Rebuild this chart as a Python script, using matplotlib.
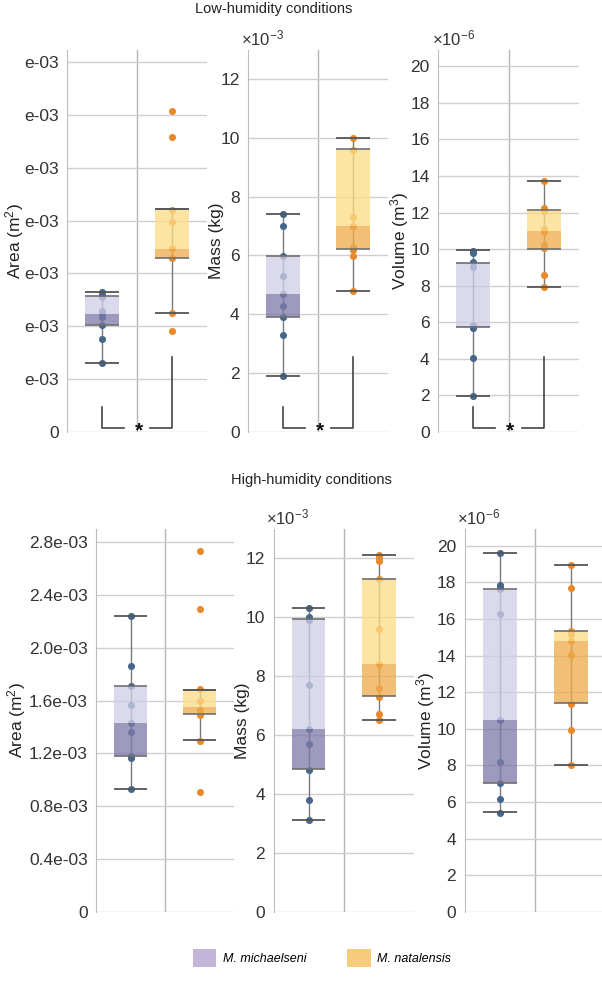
import numpy as np
import matplotlib
matplotlib.use("Agg")
import matplotlib.pyplot as plt
from matplotlib.transforms import blended_transform_factory
from matplotlib.patches import Patch

plt.rcParams['font.family'] = ['Liberation Sans', 'DejaVu Sans']
plt.rcParams['mathtext.fontset'] = 'custom'
plt.rcParams['mathtext.rm'] = 'Liberation Sans'
plt.rcParams['mathtext.it'] = 'Liberation Sans:italic'

# ---------------- data ----------------
species = ["M. michaelseni", "M. natalensis"]
conditions = ["Low-humidity conditions", "High-humidity conditions"]

# Low humidity -- individual points
area_low_mm = [1.058e-3, 1.038e-3, 1.018e-3, 0.916e-3, 0.891e-3, 0.866e-3, 0.810e-3, 0.701e-3, 0.519e-3]
area_low_mn = [2.430e-3, 2.235e-3, 1.684e-3, 1.587e-3, 1.390e-3, 1.316e-3, 0.899e-3, 0.765e-3]
mass_low_mm = [7.40e-3, 6.99e-3, 5.98e-3, 5.29e-3, 4.67e-3, 4.29e-3, 3.89e-3, 3.30e-3, 1.89e-3]
mass_low_mn = [9.99e-3, 9.60e-3, 7.29e-3, 6.99e-3, 6.29e-3, 6.18e-3, 5.98e-3, 4.79e-3]
vol_low_mm = [9.92e-6, 9.81e-6, 9.28e-6, 9.04e-6, 5.84e-6, 5.75e-6, 5.66e-6, 4.02e-6, 1.95e-6]
vol_low_mn = [13.70e-6, 12.24e-6, 12.11e-6, 11.09e-6, 10.96e-6, 10.23e-6, 10.05e-6, 8.58e-6, 7.95e-6]

# High humidity -- individual points
area_high_mm = [2.244e-3, 1.865e-3, 1.711e-3, 1.567e-3, 1.428e-3, 1.362e-3, 1.183e-3, 1.162e-3, 0.930e-3]
area_high_mn = [2.735e-3, 2.293e-3, 1.684e-3, 1.596e-3, 1.528e-3, 1.490e-3, 1.295e-3, 0.909e-3]
mass_high_mm = [10.30e-3, 10.02e-3, 9.91e-3, 7.70e-3, 6.20e-3, 5.69e-3, 4.80e-3, 3.79e-3, 3.10e-3]
mass_high_mn = [12.11e-3, 12.00e-3, 11.89e-3, 11.30e-3, 9.60e-3, 8.40e-3, 7.60e-3, 7.30e-3, 6.70e-3, 6.51e-3]
vol_high_mm = [19.60e-6, 17.86e-6, 17.77e-6, 17.63e-6, 16.27e-6, 10.50e-6, 8.18e-6, 7.03e-6, 6.17e-6, 5.42e-6]
vol_high_mn = [18.96e-6, 17.68e-6, 15.34e-6, 15.20e-6, 14.78e-6, 14.05e-6, 11.36e-6, 9.95e-6, 8.02e-6]

# Box statistics: (whisker low, Q1, median, Q3, whisker high)
box_area_low_mm = [0.522e-3, 0.812e-3, 0.891e-3, 1.025e-3, 1.056e-3]
box_area_low_mn = [0.901e-3, 1.319e-3, 1.387e-3, 1.689e-3, 1.689e-3]
box_mass_low_mm = [1.89e-3, 3.91e-3, 4.68e-3, 5.98e-3, 7.41e-3]
box_mass_low_mn = [4.80e-3, 6.21e-3, 6.99e-3, 9.61e-3, 10.00e-3]
box_vol_low_mm = [1.95e-6, 5.72e-6, 5.81e-6, 9.22e-6, 9.95e-6]
box_vol_low_mn = [7.95e-6, 10.03e-6, 11.00e-6, 12.15e-6, 13.70e-6]

box_area_high_mm = [0.930e-3, 1.183e-3, 1.428e-3, 1.711e-3, 2.244e-3]
box_area_high_mn = [1.301e-3, 1.496e-3, 1.550e-3, 1.680e-3, 1.680e-3]
box_mass_high_mm = [3.10e-3, 4.83e-3, 6.20e-3, 9.93e-3, 10.31e-3]
box_mass_high_mn = [6.51e-3, 7.31e-3, 8.41e-3, 11.30e-3, 12.10e-3]
box_vol_high_mm = [5.44e-6, 7.05e-6, 10.50e-6, 17.66e-6, 19.62e-6]
box_vol_high_mn = [8.04e-6, 11.42e-6, 14.78e-6, 15.36e-6, 18.96e-6]

# Axis ticks
area_ticks = [0, 0.4e-3, 0.8e-3, 1.2e-3, 1.6e-3, 2.0e-3, 2.4e-3, 2.8e-3]
area_labels_low = ["0", "e-03", "e-03", "e-03", "e-03", "e-03", "e-03", "e-03"]
area_labels_high = ["0", "0.4e-03", "0.8e-03", "1.2e-03", "1.6e-03", "2.0e-03", "2.4e-03", "2.8e-03"]
mass_ticks = [0, 2e-3, 4e-3, 6e-3, 8e-3, 10e-3, 12e-3]
mass_labels = ["0", "2", "4", "6", "8", "10", "12"]
vol_ticks = [0, 2e-6, 4e-6, 6e-6, 8e-6, 10e-6, 12e-6, 14e-6, 16e-6, 18e-6, 20e-6]
vol_labels = ["0", "2", "4", "6", "8", "10", "12", "14", "16", "18", "20"]

# ---------------- style ----------------
W, H = 602, 990
point_colors = ["#46668c", "#e88a2c"]
light_colors = ["#d0cee7", "#fcdc87"]
dark_colors = ["#7e7aa8", "#eeab4c"]
legend_colors = ["#c4b5db", "#f6cc7c"]
BOX_ALPHA = 0.76
BOX_W = 0.48

fig = plt.figure(figsize=(W / 100, H / 100), dpi=100)


def add_ax(left, top, right, bottom):
    return fig.add_axes([left / W, 1 - bottom / H, (right - left) / W, (bottom - top) / H])


def draw_panel(ax, pts, boxes, ticks, labels, ylim, ylabel, label_x, offset=None, offset_xy=None,
               sig=False):
    ax.set_xlim(-0.5, 1.5)
    ax.set_ylim(*ylim)
    ax.set_yticks(ticks)
    ax.set_yticklabels(labels)
    ax.set_xticks([])
    ax.tick_params(axis='y', length=0, pad=6, labelsize=12.5, labelcolor="#333333")
    ax.yaxis.grid(True, color="#cfcfcf", lw=1.0, zorder=0)
    ax.set_axisbelow(True)
    for s in ["top", "right", "bottom"]:
        ax.spines[s].set_visible(False)
    ax.spines["left"].set_color("#bdbdbd")
    ax.axvline(0.5, color="#b5b5b5", lw=1.0, zorder=0.5)
    for i in range(2):
        wlo, q1, med, q3, whi = boxes[i]
        # whisker line
        ax.vlines(i, wlo, whi, color="#7a7a7a", lw=1.0, zorder=1)
        # points
        ax.scatter(np.full(len(pts[i]), i), pts[i], s=26, color=point_colors[i],
                   zorder=2, linewidths=0)
        # box: lower (dark) and upper (light) parts
        ax.bar(i, med - q1, bottom=q1, width=BOX_W, color=dark_colors[i], alpha=BOX_ALPHA,
               zorder=3, linewidth=0)
        ax.bar(i, q3 - med, bottom=med, width=BOX_W, color=light_colors[i], alpha=BOX_ALPHA,
               zorder=3, linewidth=0)
        ax.hlines([q1, q3], i - BOX_W / 2, i + BOX_W / 2, color="#6f6f6f", lw=1.2, zorder=4)
        ax.hlines([wlo, whi], i - BOX_W / 2, i + BOX_W / 2, color="#555555", lw=1.3, zorder=4)
    bb = ax.get_position()
    fig.text(label_x / W, bb.y0 + bb.height / 2, ylabel, rotation=90, ha="center", va="center",
             fontsize=12.5, color="#222222")
    if offset:
        fig.text(offset_xy[0] / W, 1 - offset_xy[1] / H, offset, ha="left", va="center",
                 fontsize=12, color="#333333")
    if sig:
        tr = blended_transform_factory(ax.transData, ax.transAxes)
        kw = dict(color="#444444", lw=1.2, transform=tr, clip_on=False, zorder=5)
        ax.plot([0, 0, 0.31], [0.0655, 0.0105, 0.0105], **kw)
        ax.plot([0.69, 1.0, 1.0], [0.0105, 0.0105, 0.1965], **kw)
        ax.text(0.525, -0.012, "*", transform=tr, ha="center", va="baseline",
                fontsize=15, fontweight="bold", color="#111111", clip_on=False)


# ---------- top row (low humidity) ----------
ax = add_ax(67, 50, 207, 431.7)
draw_panel(ax, [area_low_mm, area_low_mn], [box_area_low_mm, box_area_low_mn], area_ticks,
           area_labels_low, (0, 2.893e-3), "Area (m$^2$)", 15, sig=True)
ax = add_ax(248, 50, 388, 431.7)
draw_panel(ax, [mass_low_mm, mass_low_mn], [box_mass_low_mm, box_mass_low_mn], mass_ticks,
           mass_labels, (0, 12.99e-3), "Mass (kg)", 217, r"$\times10^{-3}$", (241, 38), sig=True)
ax = add_ax(438, 50, 579, 431.7)
draw_panel(ax, [vol_low_mm, vol_low_mn], [box_vol_low_mm, box_vol_low_mn], vol_ticks,
           vol_labels, (0, 20.9e-6), "Volume (m$^3$)", 400, r"$\times10^{-6}$", (432, 38), sig=True)

# ---------- bottom row (high humidity) ----------
ax = add_ax(96, 529.3, 234, 911.7)
draw_panel(ax, [area_high_mm, area_high_mn], [box_area_high_mm, box_area_high_mn], area_ticks,
           area_labels_high, (0, 2.898e-3), "Area (m$^2$)", 17)
ax = add_ax(273.5, 529.3, 414, 911.7)
draw_panel(ax, [mass_high_mm, mass_high_mn], [box_mass_high_mm, box_mass_high_mn], mass_ticks,
           mass_labels, (0, 12.98e-3), "Mass (kg)", 242, r"$\times10^{-3}$", (266, 517))
ax = add_ax(464.5, 529.3, 606, 911.7)
draw_panel(ax, [vol_high_mm, vol_high_mn], [box_vol_high_mm, box_vol_high_mn], vol_ticks,
           vol_labels, (0, 20.9e-6), "Volume (m$^3$)", 426, r"$\times10^{-6}$", (457, 517))

# titles
fig.text(274 / W, 1 - 9 / H, conditions[0], ha="center", va="center", fontsize=10.5, color="#222222")
fig.text(311 / W, 1 - 480 / H, conditions[1], ha="center", va="center", fontsize=10.5, color="#222222")

# legend
handles = [Patch(facecolor=legend_colors[i], edgecolor="none") for i in range(2)]
fig.legend(handles, species, loc="center", bbox_to_anchor=(322 / W, 1 - 958 / H), ncol=2,
           frameon=False, prop={"style": "italic", "size": 9}, handlelength=1.85,
           handleheight=1.85, handletextpad=0.5, columnspacing=3.3)

fig.savefig("out.png", dpi=100)
